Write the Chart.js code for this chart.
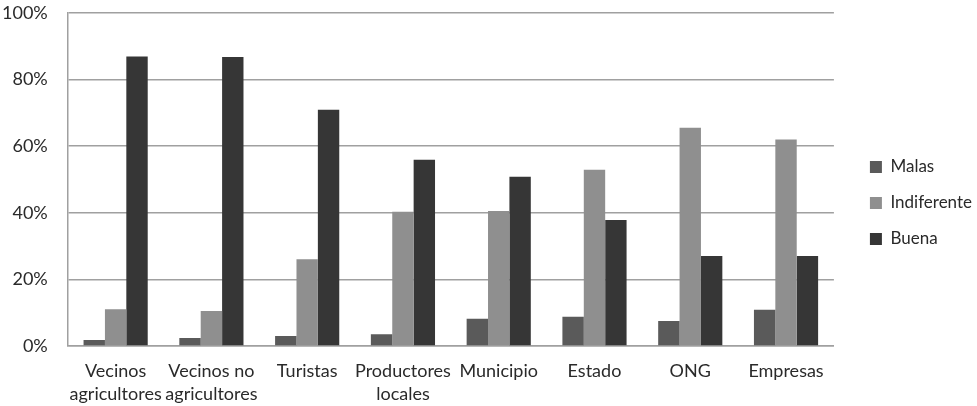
<!DOCTYPE html>
<html>
<head>
<meta charset="utf-8">
<script src="https://cdn.jsdelivr.net/npm/chart.js@4/dist/chart.umd.min.js"></script>
<style>
  html, body { margin: 0; padding: 0; background: #fff; }
</style>
</head>
<body>
<canvas id="chart" width="977" height="406"></canvas>
<script>
// Categories and percentages
const categories = [
  ["Vecinos", "agricultores"],
  ["Vecinos no", "agricultores"],
  "Turistas",
  ["Productores", "locales"],
  "Municipio",
  "Estado",
  "ONG",
  "Empresas"
]
const malas = [1.8, 2.4, 3.0, 3.5, 8.2, 8.8, 7.5, 10.9]
const indiferente = [11.0, 10.5, 26.0, 40.3, 40.5, 52.9, 65.5, 62.0]
const buena = [86.9, 86.7, 70.9, 55.9, 50.8, 37.8, 27.0, 27.0]
const yTicks = [0, 20, 40, 60, 80, 100]

Chart.defaults.font.family = "Lato, 'Open Sans', sans-serif"
Chart.defaults.color = "#2a2a2a"

// push the legend a bit away from the plot, like the original
const legendGap = {
  id: "legendGap",
  afterLayout(chart) {
    chart.legend.left += 17
    chart.legend.right += 17
  }
}

new Chart(
  document.getElementById("chart"),
  {
    type: "bar",
    data: {
      labels: categories,
      datasets: [
        { label: "Malas", data: malas, backgroundColor: "#5a5a5a" },
        { label: "Indiferente", data: indiferente, backgroundColor: "#8f8f8f" },
        { label: "Buena", data: buena, backgroundColor: "#363636" }
      ]
    },
    plugins: [legendGap],
    options: {
      responsive: false,
      animation: false,
      layout: { padding: { left: 0, right: 12, top: 0, bottom: 0 } },
      datasets: {
        bar: { categoryPercentage: 0.67, barPercentage: 1.0 }
      },
      plugins: {
        tooltip: { enabled: false },
        legend: {
          position: "right",
          labels: {
            boxWidth: 12,
            boxHeight: 12,
            padding: 19,
            font: { size: 17 },
            color: "#2a2a2a"
          }
        }
      },
      scales: {
        x: {
          grid: { display: false, drawTicks: false },
          border: { color: "#a0a0a0", width: 1.5 },
          ticks: { font: { size: 18, lineHeight: 1.25 }, padding: 14, maxRotation: 0, autoSkip: false },
          afterFit: axis => { axis.height -= 13 }
        },
        y: {
          min: 0,
          max: 100,
          afterBuildTicks: axis => { axis.ticks = yTicks.map(v => ({ value: v })) },
          grid: { color: "#a0a0a0", lineWidth: 1.5, drawTicks: true, tickLength: 18, tickColor: "rgba(0,0,0,0)" },
          border: { color: "#a0a0a0", width: 1.5 },
          ticks: { font: { size: 18 }, padding: 2, callback: v => v + "%" }
        }
      }
    }
  }
)
</script>
</body>
</html>
